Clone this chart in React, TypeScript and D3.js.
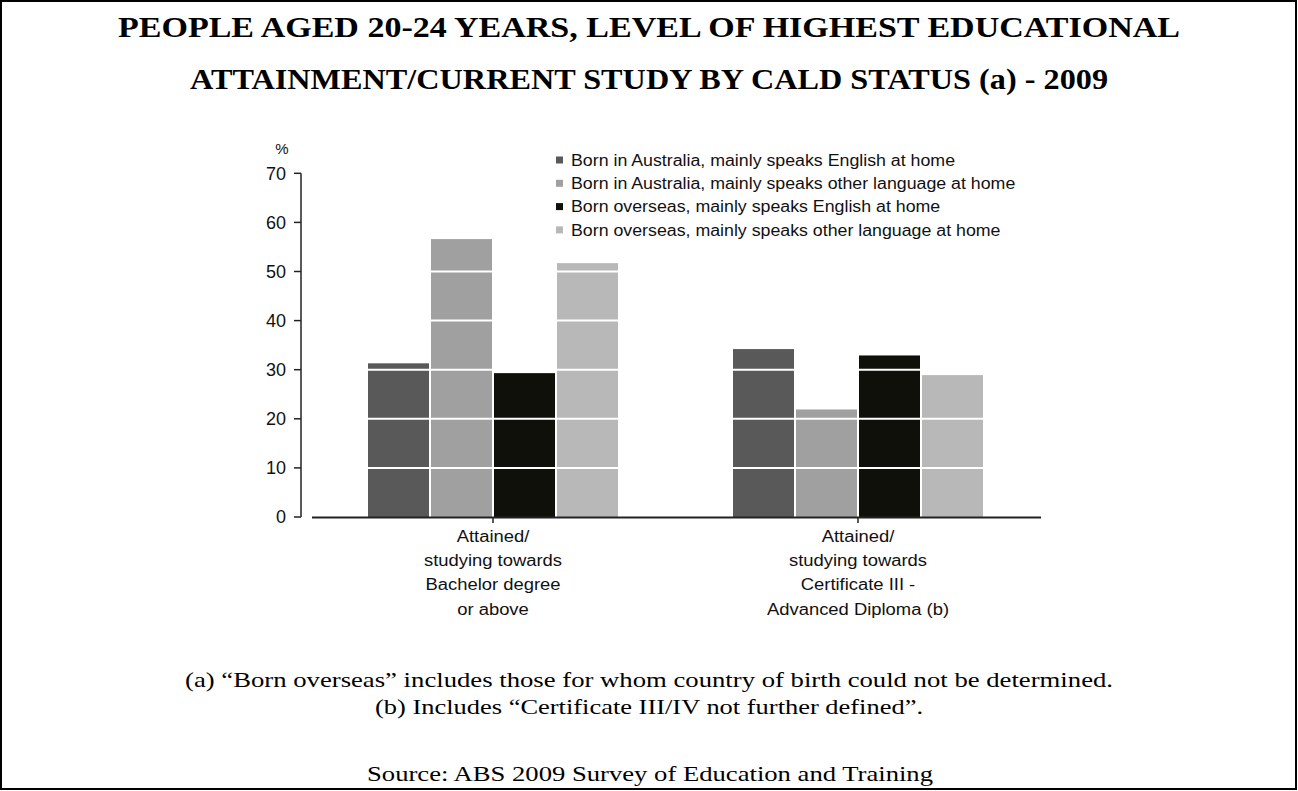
import React, { useEffect, useRef } from "react";
import * as d3 from "d3";

const categories = [
  ["Attained/", "studying towards", "Bachelor degree", "or above"],
  ["Attained/", "studying towards", "Certificate III -", "Advanced Diploma (b)"],
];
const categoryKeys = ["bachelor", "cert"];
const seriesNames = [
  "Born in Australia, mainly speaks English at home",
  "Born in Australia, mainly speaks other language at home",
  "Born overseas, mainly speaks English at home",
  "Born overseas, mainly speaks other language at home",
];
const seriesColors = ["#595959", "#a0a0a0", "#10100a", "#b8b8b8"];
const bachelorValues = [31.3, 56.6, 29.3, 51.7];
const certValues = [34.2, 21.9, 32.9, 28.9];
const yTicks = [0, 10, 20, 30, 40, 50, 60, 70];
const titleLines = [
  "PEOPLE AGED 20-24 YEARS, LEVEL OF HIGHEST EDUCATIONAL",
  "ATTAINMENT/CURRENT STUDY BY CALD STATUS (a) - 2009",
];
const footnotes = [
  "(a) \u201cBorn overseas\u201d includes those for whom country of birth could not be determined.",
  "(b) Includes \u201cCertificate III/IV not further defined\u201d.",
];
const sourceText = "Source: ABS 2009 Survey of Education and Training";

const W = 1298;
const H = 791;

function stretch(sel: any, k: number) {
  const node = sel.node() as SVGTextElement;
  const len = node.getComputedTextLength();
  sel.attr("textLength", len * k).attr("lengthAdjust", "spacingAndGlyphs");
}

export default function App() {
  const ref = useRef<SVGSVGElement>(null);

  useEffect(() => {
    const svg = d3.select(ref.current);
    svg.selectAll("*").remove();

    svg
      .append("rect")
      .attr("x", 1)
      .attr("y", 1)
      .attr("width", W - 3)
      .attr("height", H - 3)
      .attr("fill", "white")
      .attr("stroke", "black")
      .attr("stroke-width", 2);

    const serif = "'Liberation Serif', 'Times New Roman', serif";
    const sans = "'Liberation Sans', Arial, sans-serif";

    const titleY = [37, 89];
    const titleLen = [1062, 918];
    titleLines.forEach((t, i) => {
      svg
        .append("text")
        .attr("x", 649)
        .attr("y", titleY[i])
        .attr("text-anchor", "middle")
        .attr("font-family", serif)
        .attr("font-weight", "bold")
        .attr("font-size", 29)
        .attr("textLength", titleLen[i])
        .attr("lengthAdjust", "spacingAndGlyphs")
        .text(t);
    });

    const y = d3.scaleLinear().domain([0, 70]).range([517, 173.3]);
    const x0 = d3.scaleBand().domain(categoryKeys).range([310.5, 1040.5]).padding(0);
    const groupW = 252;
    const x1 = d3.scaleBand().domain(seriesNames).range([0, groupW]).padding(0);
    const valuesByCat = [bachelorValues, certValues];

    const g = svg.append("g");
    categoryKeys.forEach((ck, ci) => {
      const gx = (x0(ck) as number) + (x0.bandwidth() - groupW) / 2;
      seriesNames.forEach((s, si) => {
        const v = valuesByCat[ci][si];
        g.append("rect")
          .attr("x", gx + (x1(s) as number) + 1)
          .attr("width", x1.bandwidth() - 2)
          .attr("y", y(v))
          .attr("height", y(0) - y(v))
          .attr("fill", seriesColors[si]);
      });
    });

    // white gridlines over bars
    yTicks
      .filter((t) => t > 0)
      .forEach((t) => {
        svg
          .append("line")
          .attr("x1", 312)
          .attr("x2", 1041)
          .attr("y1", y(t))
          .attr("y2", y(t))
          .attr("stroke", "white")
          .attr("stroke-width", 2);
      });

    // y axis
    svg
      .append("line")
      .attr("x1", 301)
      .attr("x2", 301)
      .attr("y1", y(70))
      .attr("y2", y(0))
      .attr("stroke", "#222")
      .attr("stroke-width", 1.5);
    yTicks.forEach((t) => {
      svg
        .append("line")
        .attr("x1", 294)
        .attr("x2", 301)
        .attr("y1", y(t))
        .attr("y2", y(t))
        .attr("stroke", "#222")
        .attr("stroke-width", 1.5);
      svg
        .append("text")
        .attr("x", 286)
        .attr("y", y(t))
        .attr("dy", "0.35em")
        .attr("text-anchor", "end")
        .attr("font-family", sans)
        .attr("font-size", 18)
        .attr("fill", "#111")
        .text(String(t));
    });
    svg
      .append("text")
      .attr("x", 282)
      .attr("y", 154)
      .attr("text-anchor", "middle")
      .attr("font-family", sans)
      .attr("font-size", 15)
      .attr("fill", "#111")
      .text("%");

    // x axis
    svg
      .append("line")
      .attr("x1", 312)
      .attr("x2", 1041)
      .attr("y1", 517.5)
      .attr("y2", 517.5)
      .attr("stroke", "#222")
      .attr("stroke-width", 2);
    categoryKeys.forEach((ck, ci) => {
      const cx = (x0(ck) as number) + x0.bandwidth() / 2;
      svg
        .append("line")
        .attr("x1", cx)
        .attr("x2", cx)
        .attr("y1", 517)
        .attr("y2", 523)
        .attr("stroke", "#222")
        .attr("stroke-width", 1.5);
      categories[ci].forEach((line, li) => {
        const t = svg
          .append("text")
          .attr("x", cx)
          .attr("y", 542 + li * 24.2)
          .attr("text-anchor", "middle")
          .attr("font-family", sans)
          .attr("font-size", 16)
          .attr("fill", "#111")
          .text(line);
        stretch(t, 1.15);
      });
    });

    // legend
    seriesNames.forEach((s, i) => {
      const ly = 160 + i * 23.3;
      svg
        .append("rect")
        .attr("x", 556)
        .attr("y", ly - 3.5)
        .attr("width", 7)
        .attr("height", 7)
        .attr("fill", seriesColors[i]);
      const t = svg
        .append("text")
        .attr("x", 571)
        .attr("y", ly)
        .attr("dy", "0.35em")
        .attr("font-family", sans)
        .attr("font-size", 16)
        .attr("fill", "#111")
        .text(s);
      stretch(t, 1.11);
    });

    // footnotes
    const footY = [687, 714];
    const footLen = [928, 548];
    footnotes.forEach((f, i) => {
      svg
        .append("text")
        .attr("x", 649)
        .attr("y", footY[i])
        .attr("text-anchor", "middle")
        .attr("font-family", serif)
        .attr("font-size", 22)
        .attr("textLength", footLen[i])
        .attr("lengthAdjust", "spacingAndGlyphs")
        .text(f);
    });
    svg
      .append("text")
      .attr("x", 650)
      .attr("y", 781)
      .attr("text-anchor", "middle")
      .attr("font-family", serif)
      .attr("font-size", 22)
      .attr("textLength", 566)
      .attr("lengthAdjust", "spacingAndGlyphs")
      .text(sourceText);
  }, []);

  return (
    <svg
      ref={ref}
      width={W}
      height={H}
      style={{ position: "absolute", left: 0, top: 0, background: "white" }}
    />
  );
}
